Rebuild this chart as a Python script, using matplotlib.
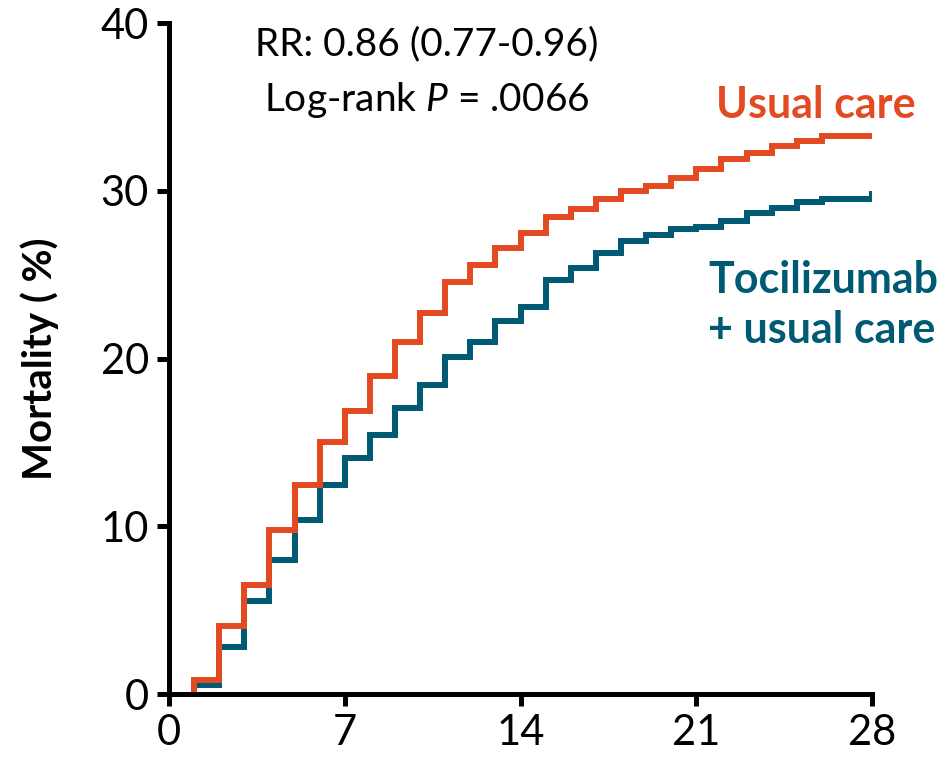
import matplotlib
matplotlib.use('Agg')
import matplotlib.pyplot as plt
import numpy as np

plt.rcParams['font.family'] = ['Lato', 'DejaVu Sans']
plt.rcParams['mathtext.fontset'] = 'custom'
plt.rcParams['mathtext.rm'] = 'Lato'
plt.rcParams['mathtext.it'] = 'Lato:italic'

# cumulative mortality (%) at the start of each day, days 1..28
days = np.arange(1, 29)
usual_care = [0.85, 4.08, 6.5, 9.75, 12.48, 15.0, 16.85, 18.98, 20.97, 22.73,
              24.57, 25.6, 26.59, 27.5, 28.44, 28.93, 29.53, 29.99, 30.29, 30.79,
              31.32, 31.92, 32.28, 32.64, 32.97, 33.27, 33.27, 33.27]
tocilizumab = [0.54, 2.83, 5.57, 7.96, 10.35, 12.44, 14.05, 15.42, 17.05, 18.4,
               20.08, 20.97, 22.23, 23.06, 24.67, 25.41, 26.31, 27.0, 27.34, 27.7,
               27.86, 28.2, 28.7, 29.0, 29.33, 29.53, 29.53, 29.8]

orange = '#E34A21'
teal = '#005A73'

fig = plt.figure(figsize=(9.48, 7.57), dpi=100)
ax = fig.add_axes([0.1783, 0.0832, 0.7416, 0.8864])

x = np.concatenate([[1], days])
ax.step(x, np.concatenate([[0], tocilizumab]), where='post', color=teal, lw=4.3, solid_joinstyle='miter')
ax.step(x, np.concatenate([[0], usual_care]), where='post', color=orange, lw=4.3, solid_joinstyle='miter')

ax.set_xlim(0, 28)
ax.set_ylim(0, 40)
ax.set_xticks([0, 7, 14, 21, 28])
ax.set_yticks([0, 10, 20, 30, 40])
ax.tick_params(labelsize=30, width=3.6, length=8.5, pad=6)
for s in ['top', 'right']:
    ax.spines[s].set_visible(False)
for s in ['left', 'bottom']:
    ax.spines[s].set_linewidth(3.6)
ax.set_ylabel('Mortality ( %)', fontsize=29, fontweight='bold', labelpad=30)

ax.text(0.367, 0.968, 'RR: 0.86 (0.77-0.96)', transform=ax.transAxes,
        ha='center', va='center', fontsize=28)
ax.text(0.367, 0.885, 'Log-rank $P$ = .0066', transform=ax.transAxes,
        ha='center', va='center', fontsize=28)
ax.text(0.778, 0.878, 'Usual care', transform=ax.transAxes, color=orange,
        ha='left', va='center', fontsize=31, fontweight='bold')
ax.text(0.767, 0.58, 'Tocilizumab\n+ usual care', transform=ax.transAxes, color=teal,
        ha='left', va='center', fontsize=31, fontweight='bold', linespacing=1.3)

fig.savefig('out.png', dpi=100)
